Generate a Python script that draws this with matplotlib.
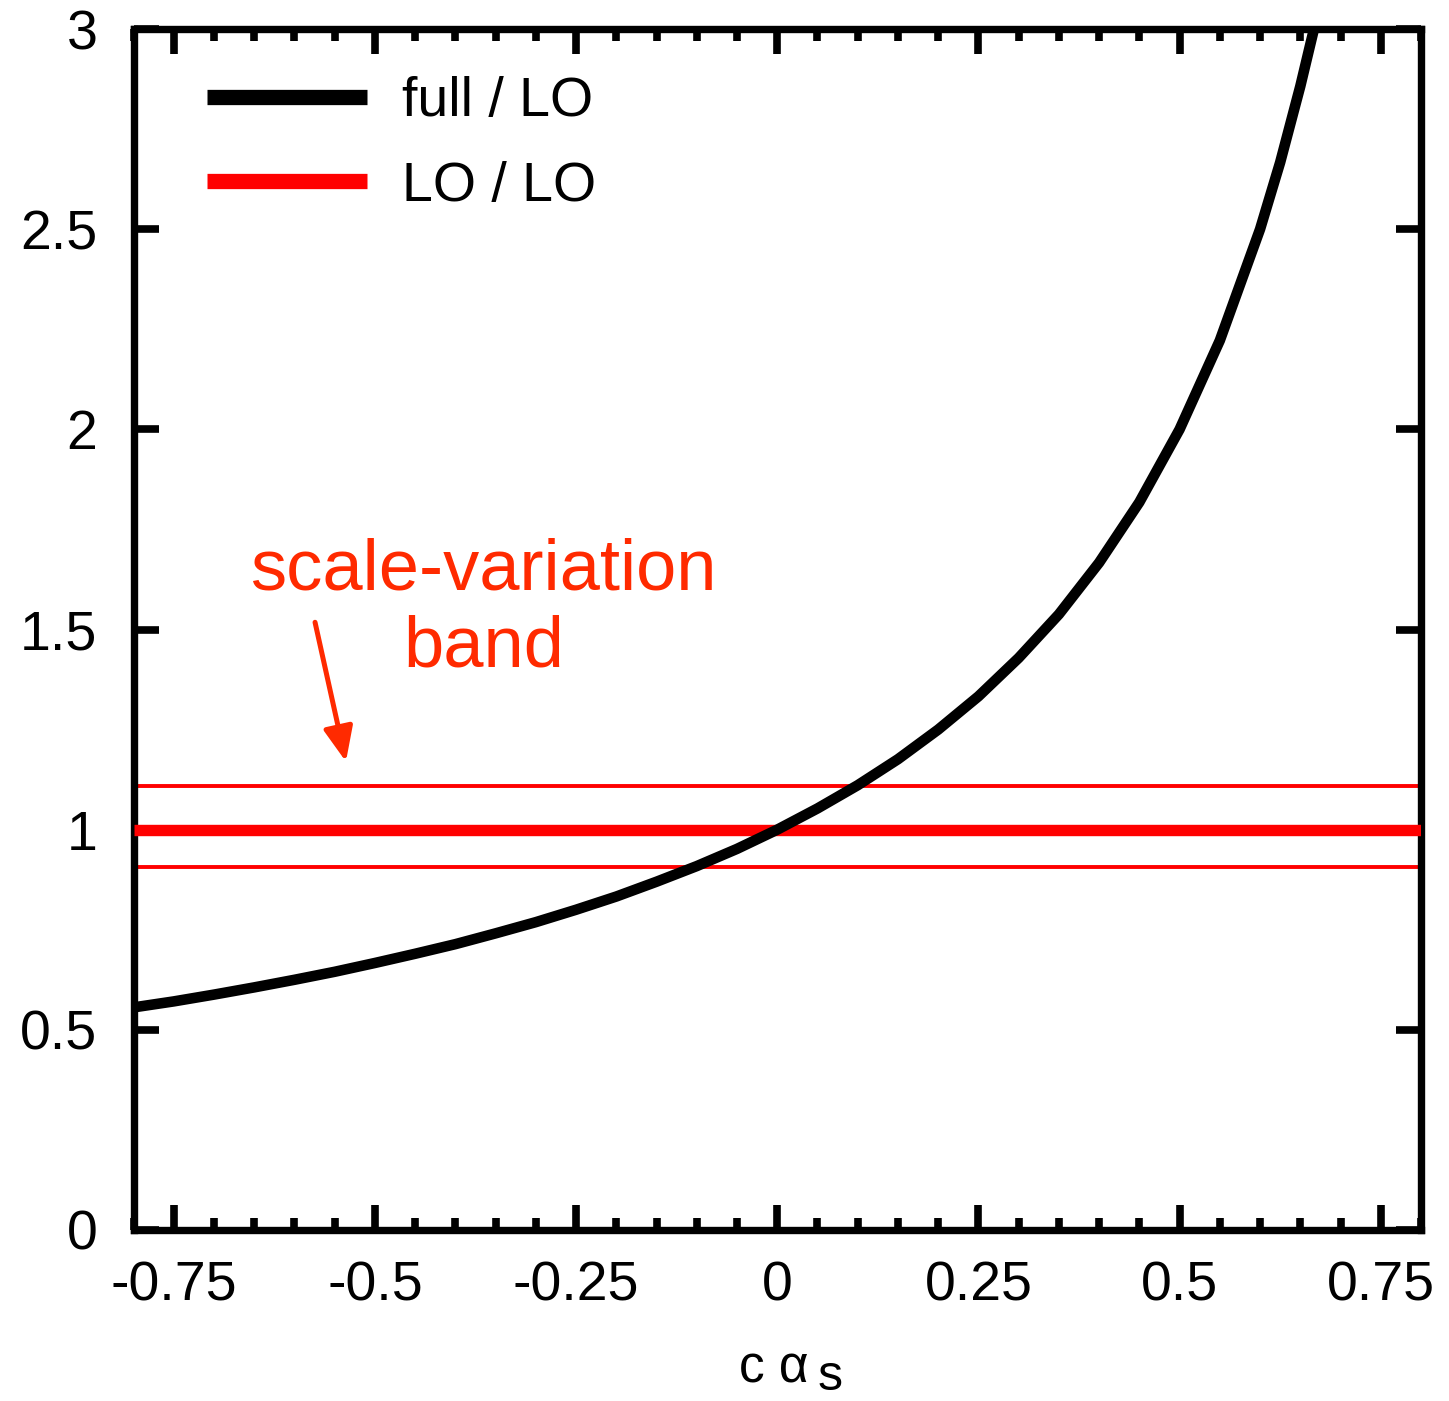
import numpy as np
import matplotlib
matplotlib.use('Agg')
import matplotlib.pyplot as plt
from matplotlib.ticker import MultipleLocator

plt.rcParams['font.family'] = ['Liberation Sans', 'DejaVu Sans']

# data
c_alpha = [-0.80, -0.75, -0.70, -0.65, -0.60, -0.55, -0.50, -0.45, -0.40, -0.35,
           -0.30, -0.25, -0.20, -0.15, -0.10, -0.05, 0.00, 0.05, 0.10, 0.15,
           0.20, 0.25, 0.30, 0.35, 0.40, 0.45, 0.50, 0.55, 0.60, 0.625, 0.65, 0.667]
full_lo = [0.556, 0.571, 0.588, 0.606, 0.625, 0.645, 0.667, 0.690, 0.714, 0.741,
           0.769, 0.800, 0.833, 0.870, 0.909, 0.952, 1.000, 1.053, 1.111, 1.176,
           1.250, 1.333, 1.429, 1.538, 1.667, 1.818, 2.000, 2.222, 2.500, 2.667, 2.857, 3.000]
x_range = [-0.8, 0.8]
lo_lo = 1.0
band_hi = 1.11
band_lo = 0.907
xtick_vals = [-0.75, -0.5, -0.25, 0, 0.25, 0.5, 0.75]
xtick_txt = ['-0.75', '-0.5', '-0.25', '0', '0.25', '0.5', '0.75']
ytick_vals = [0, 0.5, 1, 1.5, 2, 2.5, 3]
ytick_txt = ['0', '0.5', '1', '1.5', '2', '2.5', '3']

red = '#ff0000'
note_red = '#ff2a00'

fig = plt.figure(figsize=(14.49, 14.01), dpi=100)
ax = fig.add_axes([133.5 / 1449, (1401 - 1230) / 1401, (1421 - 133.5) / 1449, (1230 - 29) / 1401])

ax.plot(x_range, [band_hi, band_hi], color=red, lw=2.8, solid_capstyle='butt')
ax.plot(x_range, [band_lo, band_lo], color=red, lw=2.8, solid_capstyle='butt')
ax.plot(x_range, [lo_lo, lo_lo], color=red, lw=8.2, solid_capstyle='butt', label='LO / LO', zorder=3)
ax.plot(c_alpha, full_lo, color='black', lw=7.6, label='full / LO', zorder=4)

ax.set_xlim(x_range)
ax.set_ylim(0, 3)
ax.xaxis.set_minor_locator(MultipleLocator(0.05))
ax.set_xticks(xtick_vals)
ax.set_xticklabels(xtick_txt)
ax.set_yticks(ytick_vals)
ax.set_yticklabels(ytick_txt)

ax.tick_params(which='both', direction='in', top=True, right=True, labelsize=40, width=5.5)
ax.tick_params(which='major', length=18)
ax.tick_params(which='minor', length=8.5)
ax.tick_params(axis='x', which='major', pad=22)
ax.tick_params(axis='y', which='major', pad=26)
for s in ax.spines.values():
    s.set_linewidth(5.3)

# axis title: c alpha with a full-size lowered "s"
xl = ax.set_xlabel('c α', fontsize=37, va='baseline')
ax.xaxis.set_label_coords(0.497, -0.127)
fig.text(818 / 1449, 1 / 1401, 's', fontsize=36, ha='left', va='bottom')

handles, labels = ax.get_legend_handles_labels()
leg = ax.legend(handles[::-1], labels[::-1], loc='upper left', bbox_to_anchor=(0.040, 0.979),
                frameon=False, fontsize=40, handlelength=2.88, handletextpad=0.62,
                labelspacing=0.58, borderaxespad=0)
for ln in leg.get_lines():
    ln.set_linewidth(11)
    ln.set_solid_capstyle('butt')

ax.text(0.272, 0.533, 'scale-variation', transform=ax.transAxes, ha='center', va='baseline',
        fontsize=52, color=note_red)
ax.text(0.272, 0.469, 'band', transform=ax.transAxes, ha='center', va='baseline',
        fontsize=52, color=note_red)
ax.annotate('', xy=(0.165, 0.390), xytext=(0.141, 0.506), xycoords='axes fraction',
            arrowprops=dict(arrowstyle='-|>,head_length=1.05,head_width=0.45', mutation_scale=20,
                            lw=3.6, color=note_red, shrinkA=0, shrinkB=0))

fig.savefig('out.png', dpi=100)
